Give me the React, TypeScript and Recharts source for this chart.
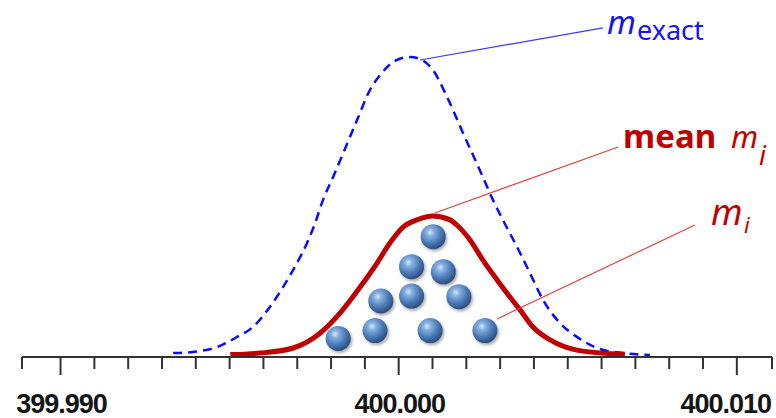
import { ComposedChart, Line, Scatter, XAxis, YAxis, ReferenceLine } from 'recharts';

const WIDTH = 776;
const HEIGHT = 418;

// m_exact distribution (blue dashed)
const exactMass = [
  399.99333, 399.99392, 399.99463, 399.99522, 399.99569, 399.99619, 399.99658, 399.99699,
  399.99729, 399.99753, 399.99776, 399.99806, 399.99877, 399.99915, 399.99945, 399.99989,
  400.00033, 400.00069, 400.00101, 400.00143, 400.0019, 400.00249, 400.00279, 400.00308,
  400.0035, 400.00388, 400.00427, 400.00477, 400.00527, 400.00587, 400.00663, 400.00743,
];
const exactLevel = [
  1.3, 1.7, 3.3, 6.7, 10, 16.7, 23.3, 31.3,
  38, 44.7, 52.3, 60, 79, 89, 94, 98.7,
  100, 99, 95.7, 86.7, 74.7, 60, 52.3, 45.7,
  36.7, 28, 19, 11.3, 6.7, 3, 1.3, 0.7,
];

// mean m_i distribution (red)
const meanMass = [
  399.99502, 399.9959, 399.99688, 399.99768, 399.99827, 399.99886, 399.99936, 399.99974,
  400.00013, 400.00054, 400.00101, 400.00152, 400.00172, 400.00211, 400.00249, 400.00291,
  400.00329, 400.00359, 400.00397, 400.00448, 400.00527, 400.00646, 400.00669,
];
const meanLevel = [
  0.8, 1.3, 3, 8, 14.7, 23.3, 31.3, 38,
  43.3, 45.7, 47, 45.7, 44, 39, 32.3, 25.7,
  20, 15.7, 10, 5.7, 2.3, 1, 0.9,
];

// individual measurements m_i (balls)
const sampleMass = [
  400.00102, 400.00038, 400.00132, 400.00038, 399.99947,
  400.00178, 399.9993, 400.00093, 400.00255, 399.99821,
];
const sampleLevel = [40.1, 30.1, 28.4, 20.3, 18.7, 20.1, 8.8, 8.8, 8.8, 6.2];

const axisTicks = [
  399.98886, 399.99, 399.991, 399.992, 399.993, 399.994, 399.995, 399.996, 399.997,
  399.998, 399.999, 400.0, 400.001, 400.002, 400.003, 400.004, 400.005, 400.006,
  400.007, 400.008, 400.009, 400.01, 400.01104,
];
const labelledTicks = [399.99, 400.0, 400.01];

// leader lines: [from, to] as [mass, level]
const exactLeader = [[400.00063, 99], [400.00604, 109.7]];
const meanLeader = [[400.00107, 48], [400.00649, 70]];
const sampleLeader = [[400.00291, 12.7], [400.00876, 44]];

const exactData = exactMass.map((x, i) => ({ x, y: exactLevel[i] }));
const meanData = meanMass.map((x, i) => ({ x, y: meanLevel[i] }));
const sampleData = sampleMass.map((x, i) => ({ x, y: sampleLevel[i] }));

const toSegment = (pts: number[][]) => pts.map(([x, y]) => ({ x, y }));

function AxisTick(props: any) {
  const { x, y, payload } = props;
  const major = labelledTicks.some((t) => Math.abs(t - payload.value) < 1e-7);
  // keep the last label inside the picture, like the original
  const overflow = x + 46 > WIDTH;
  return (
    <g>
      <line x1={x} x2={x} y1={y} y2={y + (major ? 18 : 12)} stroke="#333" strokeWidth={2} />
      {major && (
        <text
          x={overflow ? WIDTH - 5 : x + 1}
          y={y + 56}
          textAnchor={overflow ? 'end' : 'middle'}
          fontFamily="'Liberation Sans', Arial, sans-serif"
          fontWeight={700}
          fontSize={27}
          letterSpacing={-1}
          fill="#151515"
        >
          {payload.value.toFixed(3)}
        </text>
      )}
    </g>
  );
}

function Ball(props: any) {
  const { cx, cy } = props;
  return (
    <g>
      <circle cx={cx + 1.5} cy={cy + 2} r={12.5} fill="rgba(0,0,0,0.35)" filter="url(#ballShadow)" />
      <circle cx={cx} cy={cy} r={12.5} fill="url(#ballFill)" />
    </g>
  );
}

const labelFont = "'Noto Sans', 'Open Sans', sans-serif";

export default function App() {
  return (
    <div style={{ position: 'absolute', left: 0, top: 0, width: WIDTH, height: HEIGHT, background: '#fff' }}>
      <svg width={0} height={0} style={{ position: 'absolute' }}>
        <defs>
          <radialGradient id="ballFill" cx="38%" cy="33%" r="70%">
            <stop offset="0%" stopColor="#d6e8fa" />
            <stop offset="22%" stopColor="#86b0e0" />
            <stop offset="60%" stopColor="#4c7cb8" />
            <stop offset="100%" stopColor="#27497a" />
          </radialGradient>
          <filter id="ballShadow" x="-50%" y="-50%" width="200%" height="200%">
            <feGaussianBlur stdDeviation="1.5" />
          </filter>
        </defs>
      </svg>

      <ComposedChart width={WIDTH} height={HEIGHT} margin={{ top: 27, right: 4, bottom: 0, left: 22 }}>
        <XAxis
          dataKey="x"
          type="number"
          domain={[399.98886, 400.01104]}
          ticks={axisTicks}
          interval={0}
          height={61}
          tickSize={0}
          tickMargin={0}
          tickLine={false}
          axisLine={{ stroke: '#333', strokeWidth: 2 }}
          tick={<AxisTick />}
          allowDataOverflow
        />
        <YAxis type="number" dataKey="y" domain={[0, 110]} hide />
        <Line
          data={exactData}
          dataKey="y"
          type="monotone"
          stroke="#0a0aff"
          strokeWidth={2.5}
          strokeDasharray="9 6"
          dot={false}
          activeDot={false}
          isAnimationActive={false}
        />
        <Line
          data={meanData}
          dataKey="y"
          type="monotone"
          stroke="#c00000"
          strokeWidth={5}
          dot={false}
          activeDot={false}
          isAnimationActive={false}
        />
        <ReferenceLine segment={toSegment(exactLeader)} stroke="#3a3aff" strokeWidth={1.2} ifOverflow="visible" />
        <ReferenceLine segment={toSegment(meanLeader)} stroke="#e03a3a" strokeWidth={1.1} ifOverflow="visible" />
        <ReferenceLine segment={toSegment(sampleLeader)} stroke="#e03a3a" strokeWidth={1.1} ifOverflow="visible" />
        <Scatter data={sampleData} dataKey="y" shape={<Ball />} isAnimationActive={false} />
      </ComposedChart>

      <svg
        width={WIDTH}
        height={HEIGHT}
        style={{ position: 'absolute', left: 0, top: 0, pointerEvents: 'none' }}
      >
        <text x={607} y={34} fontFamily={labelFont} fontSize={33} fontStyle="italic" fill="#1414ff">
          m
        </text>
        <text x={637} y={40} fontFamily={labelFont} fontSize={27} fill="#1414ff">
          exact
        </text>

        <text x={623} y={148} fontFamily={labelFont} fontSize={33} fontWeight={700} fill="#c00000">
          mean
        </text>
        <text x={731} y={148} fontFamily={labelFont} fontSize={31} fontStyle="italic" fill="#c00000">
          m
        </text>
        <text x={759} y={165} fontFamily={labelFont} fontSize={27} fontStyle="italic" fill="#c00000">
          i
        </text>

        <text x={711} y={225} fontFamily={labelFont} fontSize={36} fontStyle="italic" fill="#c00000">
          m
        </text>
        <text x={744} y={233} fontFamily={labelFont} fontSize={22} fontStyle="italic" fill="#c00000">
          i
        </text>
      </svg>
    </div>
  );
}
